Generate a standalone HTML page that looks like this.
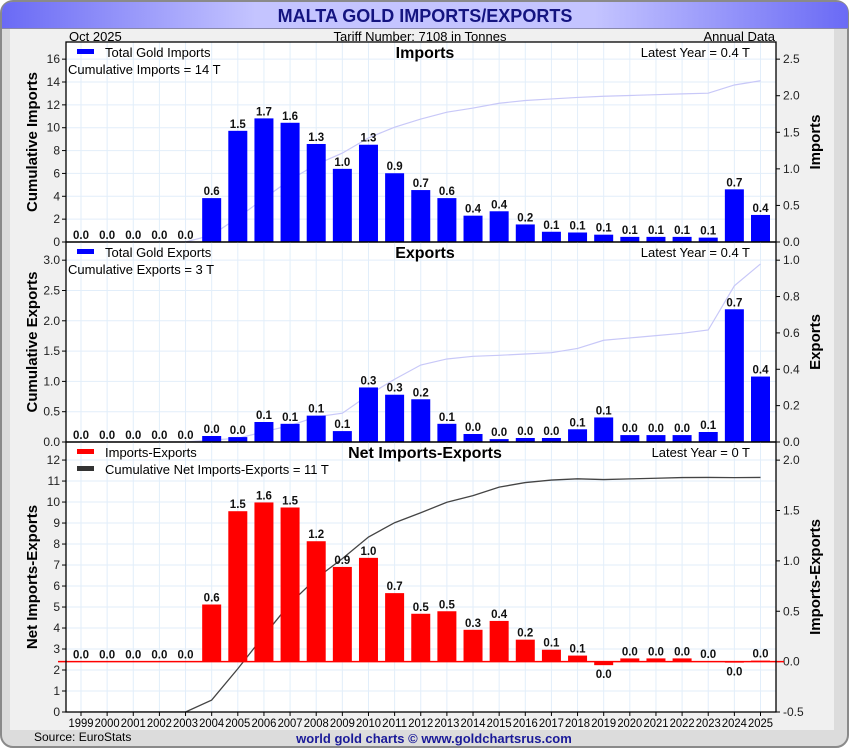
<!DOCTYPE html>
<html><head><meta charset="utf-8">
<style>
html,body{margin:0;padding:0;background:#fff;}
svg{display:block;font-family:"Liberation Sans",sans-serif;}
</style></head>
<body>
<svg id="chart" width="850" height="750" viewBox="0 0 850 750">
<defs>
<linearGradient id="tg" x1="0" x2="1" y1="0" y2="0">
<stop offset="0" stop-color="#6a6af5"/><stop offset="0.3" stop-color="#c4c4ff"/><stop offset="0.7" stop-color="#c4c4ff"/><stop offset="1" stop-color="#6a6af5"/>
</linearGradient>
<clipPath id="c1"><rect x="66" y="42" width="710" height="200"/></clipPath>
<clipPath id="c2"><rect x="66" y="242" width="710" height="200"/></clipPath>
<clipPath id="c3"><rect x="66" y="442" width="710" height="270"/></clipPath>
</defs>
<rect x="1" y="1" width="847" height="746" rx="12" fill="#dcdcdc" stroke="#8a8a8a" stroke-width="2"/>
<rect x="10" y="28" width="824" height="702" fill="#f0f0f0"/>
<path d="M2 28 V13 Q2 2 13 2 H837 Q848 2 848 13 V28 Z" fill="url(#tg)"/>
<line x1="2" y1="28.5" x2="848" y2="28.5" stroke="#8888aa"/>
<text x="425" y="22" text-anchor="middle" font-size="18" font-weight="bold" fill="#141480">MALTA GOLD IMPORTS/EXPORTS</text>
<text x="69" y="41" font-size="13">Oct  2025</text>
<text x="420" y="41" text-anchor="middle" font-size="13">Tariff Number: 7108 in Tonnes</text>
<text x="775" y="41" text-anchor="end" font-size="13">Annual Data</text>
<rect x="66" y="42" width="710" height="670" fill="#fff"/>
<g id="g"></g>
<text x="34" y="741" font-size="12">Source: EuroStats</text>
<text x="434" y="743" text-anchor="middle" font-size="13" font-weight="bold" fill="#1a1a99">world gold charts © www.goldchartsrus.com</text>
</svg>
<script>
const years = ["1999","2000","2001","2002","2003","2004","2005","2006","2007","2008","2009","2010","2011","2012","2013","2014","2015","2016","2017","2018","2019","2020","2021","2022","2023","2024","2025"];
const imports = [0,0,0,0,0,0.60,1.52,1.69,1.63,1.34,1.00,1.33,0.94,0.71,0.60,0.36,0.42,0.24,0.14,0.13,0.10,0.07,0.07,0.07,0.06,0.72,0.37];
const exportsT = [0,0,0,0,0,0.033,0.027,0.11,0.10,0.145,0.06,0.30,0.26,0.235,0.10,0.044,0.016,0.022,0.022,0.07,0.135,0.038,0.038,0.038,0.055,0.73,0.36];
const impLeftTicks = [0,2,4,6,8,10,12,14,16];
const impRightTicks = [0,0.5,1.0,1.5,2.0,2.5];
const expLeftTicks = [0,0.5,1.0,1.5,2.0,2.5,3.0];
const expRightTicks = [0,0.2,0.4,0.6,0.8,1.0];
const netLeftTicks = [0,1,2,3,4,5,6,7,8,9,10,11,12];
const netRightTicks = [-0.5,0,0.5,1.0,1.5,2.0];

const NS="http://www.w3.org/2000/svg";
const G=document.getElementById('g');
function mk(tag,attrs,parent,txt){const e=document.createElementNS(NS,tag);for(const k in attrs)e.setAttribute(k,attrs[k]);if(txt!==undefined)e.textContent=txt;(parent||G).appendChild(e);return e;}
const X0=66,X1=776;
function xc(i){return 81+i*(760.5-81)/(years.length-1);}
const BW=19;
function fmt(v){return Math.abs(v)<0.05?"0.0":v.toFixed(1);}
function cum(arr){let s=0;return arr.map(v=>s+=v);}
const net = imports.map((v,i)=>v-exportsT[i]);

const panels=[
 {top:42,bot:242,lMin:0,lMax:17.5,rMin:0,rMax:17.5/6.4,lt:impLeftTicks,rt:impRightTicks,lfmt:v=>String(v),rfmt:v=>v.toFixed(1),
  bars:imports,line:cum(imports),color:"#0000ff",lineColor:"#c8c8f8",clip:"c1",
  title:"Imports",leg1:"Total Gold Imports",leg2:"Cumulative Imports = 14 T",latest:"Latest Year = 0.4 T",ltitle:"Cumulative Imports",rtitle:"Imports",name:"imports"},
 {top:242,bot:442,lMin:0,lMax:3.3,rMin:0,rMax:1.1,lt:expLeftTicks,rt:expRightTicks,lfmt:v=>v.toFixed(1),rfmt:v=>v.toFixed(1),
  bars:exportsT,line:cum(exportsT),color:"#0000ff",lineColor:"#c8c8f8",clip:"c2",
  title:"Exports",leg1:"Total Gold Exports",leg2:"Cumulative Exports = 3 T",latest:"Latest Year = 0.4 T",ltitle:"Cumulative Exports",rtitle:"Exports",name:"exports"},
 {top:442,bot:712,lMin:0,lMax:12.86,rMin:-0.5,rMax:2.18,lt:netLeftTicks,rt:netRightTicks,lfmt:v=>String(v),rfmt:v=>v.toFixed(1),
  bars:net,line:cum(net),color:"#ff0000",lineColor:"#444",clip:"c3",
  title:"Net Imports-Exports",leg1:"Imports-Exports",leg2:null,latest:"Latest Year = 0 T",ltitle:"Net Imports-Exports",rtitle:"Imports-Exports",name:"net"}
];

panels.forEach((p,pi)=>{
 const yl=v=>p.bot-(v-p.lMin)/(p.lMax-p.lMin)*(p.bot-p.top);
 const yr=v=>p.bot-(v-p.rMin)/(p.rMax-p.rMin)*(p.bot-p.top);
 years.forEach((y,i)=>{const l=mk('line',{x1:xc(i),x2:xc(i),y1:p.top,y2:p.bot,stroke:"#e2eefa","stroke-width":1});
  
  });
 p.lt.forEach(t=>{const yy=yl(t);
  const l=mk('line',{x1:X0,x2:X1,y1:yy,y2:yy,stroke:"#e2eefa","stroke-width":1});
  
  
  const tk=mk('line',{x1:X0-4,x2:X0,y1:yy,y2:yy,stroke:"#000"});
  
  
  const tx=mk('text',{x:X0-6,y:yy+4,"text-anchor":"end","font-size":12,fill:"#222"},G,p.lfmt(t));
  
  });
 p.rt.forEach(t=>{const yy=yr(t);
  const tk=mk('line',{x1:X1,x2:X1+4,y1:yy,y2:yy,stroke:"#000"});
  
  
  const tx=mk('text',{x:X1+7,y:yy+4,"font-size":12,fill:"#222"},G,p.rfmt(t));
  
  });
 const pts=p.line.map((v,i)=>xc(i)+","+yl(v)).join(" ");
 const pl=mk('polyline',{points:pts,fill:"none",stroke:p.lineColor,"stroke-width":pi==2?1.3:1.2,"clip-path":"url(#"+p.clip+")"});
 
 
 const z=yr(0);
 p.bars.forEach((v,i)=>{
  const yv=yr(v);const top=Math.min(yv,z),h=Math.max(Math.abs(z-yv),0.01);
  if(v!==0){const b=mk('rect',{x:xc(i)-BW/2,y:top,width:BW,height:h,fill:p.color});
   
   }
  const ly=v<0?yv+13:yv-3;
  const lb=mk('text',{x:xc(i),y:ly,"text-anchor":"middle","font-size":11.5,"font-weight":"bold",fill:"#111"},G,fmt(v));
  
  
 });
 if(pi==2){const zl=mk('line',{x1:X0-8,x2:X1+8,y1:z,y2:z,stroke:"#ff0000","stroke-width":1.5});
  
  }
 const fr=mk('rect',{x:X0,y:p.top,width:X1-X0,height:p.bot-p.top,fill:"none",stroke:"#000","stroke-width":1.3});
 
 
 const t=mk('text',{x:425,y:p.top+16,"text-anchor":"middle","font-size":16,"font-weight":"bold"},G,p.title);
 
 
 const sw=mk('rect',{x:77,y:p.top+7,width:17,height:5,fill:p.color});
 
 
 const l1=mk('text',{x:105,y:p.top+15,"font-size":13},G,p.leg1);
 
 
 if(p.leg2){const l2=mk('text',{x:68,y:p.top+32,"font-size":13},G,p.leg2);
  
  }
 else{const sw2=mk('rect',{x:77,y:p.top+24,width:17,height:5,fill:"#333"});
  
  
  const l2=mk('text',{x:105,y:p.top+32,"font-size":13},G,"Cumulative Net Imports-Exports = 11 T");
  
  }
 const la=mk('text',{x:750,y:p.top+15,"text-anchor":"end","font-size":13},G,p.latest);
 
 
 const cy=(p.top+p.bot)/2;
 const at=mk('text',{x:0,y:0,"text-anchor":"middle","font-size":15,"font-weight":"bold",transform:"translate(37,"+cy+") rotate(-90)"},G,p.ltitle);
 
 
 const rtt=mk('text',{x:0,y:0,"text-anchor":"middle","font-size":15,"font-weight":"bold",transform:"translate(820,"+cy+") rotate(-90)"},G,p.rtitle);
 
 
});
years.forEach((y,i)=>{
 const tk=mk('line',{x1:xc(i),x2:xc(i),y1:712,y2:716,stroke:"#000"});
 
 
 const t=mk('text',{x:xc(i),y:727,"text-anchor":"middle","font-size":12,textLength:25,lengthAdjust:"spacingAndGlyphs"},G,y);
 
 
});
</script>
</body></html>
